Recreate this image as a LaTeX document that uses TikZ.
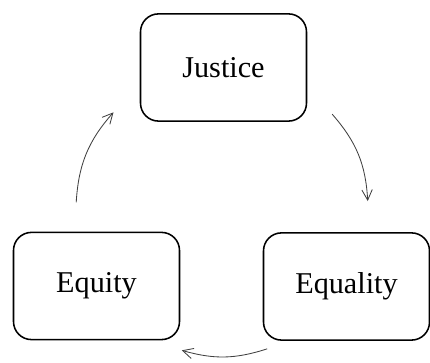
\documentclass[tikz,border=0pt]{standalone}
\usepackage{fontspec}
\setmainfont{Liberation Serif}
\usepackage{xcolor}
\usetikzlibrary{arrows.meta, positioning, calc}

\begin{document}
\begin{tikzpicture}[font=\fontsize{21.5}{26}\selectfont,
  idea/.style = {draw, line width=1.1pt, rounded corners=0.45cm,
                 minimum width=4.15cm, minimum height=2.68cm,
                 align=center, fill=white},
  cyc/.style  = {draw=black!75, line width=0.6pt,
                 -{Straight Barb[length=2.6mm, width=2.6mm]}}
]
  \useasboundingbox (0,0) rectangle (10.75,9.075);

  \node[idea] (J) at (5.5875,7.3875) {Justice};
  \node[idea] (Q) at (2.4125,1.925)  {Equity};
  \node[idea] (E) at (8.6625,1.9125) {Equality};

  %% arc end points round the middle
  \coordinate (c) at (5.55,3.825);
  \coordinate (q1) at ($(c)+(177:3.65)$);
  \coordinate (j1) at ($(c)+(138:3.65)$);
  \coordinate (j2) at ($(c)+(41:3.65)$);
  \coordinate (e1) at ($(c)+(3.5:3.65)$);
  \coordinate (e2) at ($(c)+(-72:3.65)$);
  \coordinate (q2) at ($(c)+(-106:3.65)$);

  %% Equity -> Justice
  \draw[cyc] (q1) to[bend left=19] (j1);

  %% Justice -> Equality
  \draw[cyc] (j2) to[bend left=19] (e1);

  %% Equality -> Equity
  \draw[cyc] (e2) to[bend left=17] (q2);
\end{tikzpicture}
\end{document}
